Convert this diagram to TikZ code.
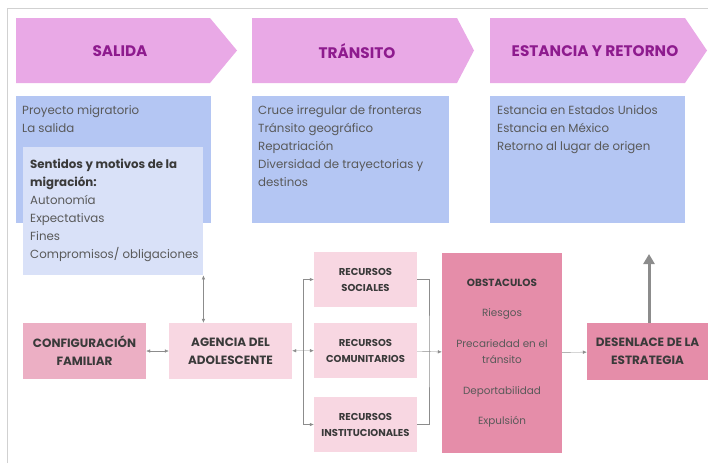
\documentclass[tikz,border=0pt]{standalone}
\usepackage{fontspec}
\setmainfont{Poppins}
\usepackage{xcolor}
\usepackage{tikz}
\usetikzlibrary{arrows.meta}
\definecolor{headpink}{HTML}{E9A9E6}
\definecolor{headpurple}{HTML}{8E1B8E}
\definecolor{boxblue}{HTML}{B4C6F3}
\definecolor{paleblue}{HTML}{D9E1F8}
\definecolor{familypink}{HTML}{ECAFC4}
\definecolor{lightpink}{HTML}{F8D7E2}
\definecolor{darkpink}{HTML}{E58DA9}
\definecolor{bodygray}{HTML}{595959}
\definecolor{boldgray}{HTML}{3A3A3A}
\definecolor{linegray}{HTML}{8C8C8C}
\tikzset{
	chevron/.style={fill=headpink},
	headtxt/.style={font=\bfseries\fontsize{15.3}{18}\selectfont,text=headpurple},
	panel/.style={fill=#1,anchor=north west,inner sep=0pt},
	body/.style={anchor=north west,align=left,inner sep=0pt,text=bodygray,font=\fontsize{11.8}{18}\selectfont},
	block/.style={fill=#1,inner sep=2pt,align=center,text=boldgray,font=\bfseries\fontsize{12}{18}\selectfont},
	res/.style={block=lightpink,minimum width=103,minimum height=55,font=\bfseries\fontsize{10}{16}\selectfont}
}

\begin{document}
\begin{tikzpicture}[x=1pt,y=-1pt]
	\useasboundingbox (0,0) rectangle (708,463);
	\draw[black!18] (7,463) -- (7,8) -- (708,8);
	%
	\fill[chevron] (16,18) -- (210,18) -- (237,50.5) -- (210,83) -- (16,83) -- cycle;
	\fill[chevron] (252,18) -- (457,18) -- (474,50.5) -- (457,83) -- (252,83) -- cycle;
	\fill[chevron] (490,18) -- (685,18) -- (707,50.5) -- (685,83) -- (490,83) -- cycle;
	\node[headtxt] (S) at (120,51) {SALIDA};
	\node[headtxt] (T) at (357,51) {TRÁNSITO};
	\node[headtxt] (E) at (595,51) {ESTANCIA Y RETORNO};
	%
	\node[panel=boxblue,minimum width=195,minimum height=127] (P1) at (16,96) {};
	\node[panel=boxblue,minimum width=197,minimum height=127] (P2) at (252,96) {};
	\node[panel=boxblue,minimum width=195,minimum height=127] (P3) at (490,96) {};
	\node[panel=paleblue,minimum width=180,minimum height=128] (M) at (23,147) {};
	\node[body] (P1t) at (22,105.5) {Proyecto migratorio\\La salida};
	\node[body] (Mt) at (30,158.5) {\textbf{\color{boldgray}Sentidos y motivos de la}\\
		\textbf{\color{boldgray}migración:}\\Autonomía\\Expectativas\\Fines\\Compromisos/ obligaciones};
	\node[body] (P2t) at (258,105.5) {Cruce irregular de fronteras\\Tránsito geográfico\\Repatriación\\
		Diversidad de trayectorias y\\destinos};
	\node[body] (P3t) at (497,105.5) {Estancia en Estados Unidos\\Estancia en México\\Retorno al lugar de origen};
	%
	\node[block=familypink,minimum width=123,minimum height=56] (CF) at (84.5,351) {CONFIGURACIÓN\\FAMILIAR};
	\node[block=lightpink,minimum width=123,minimum height=56] (AA) at (230.5,351) {AGENCIA DEL\\ADOLESCENTE};
	\node[res] (RS) at (365.5,279.5) {RECURSOS\\SOCIALES};
	\node[res] (RC) at (365.5,350.5) {RECURSOS\\COMUNITARIOS};
	\node[res] (RI) at (365.5,424.5) {RECURSOS\\INSTITUCIONALES};
	\node[block=darkpink,minimum width=120,minimum height=200,font=\fontsize{10.4}{16}\selectfont,text=bodygray] (OB) at (502,353)
		{\textbf{\color{boldgray}OBSTACULOS}\\[14pt]Riesgos\\[14.5pt]Precariedad en el\\tránsito\\[15pt]Deportabilidad\\[14pt]Expulsión};
	\node[block=darkpink,minimum width=121,minimum height=57] (DE) at (647.5,351.5) {DESENLACE DE LA\\ESTRATEGIA};
	%
	\coordinate (k) at (303,351);
	\coordinate (m) at (429,351);
	\coordinate (up) at (649,254);
	\path[<->,linegray,>={Latex[length=4pt,width=3.5pt]}]
	(CF) edge (AA)
	(M.south east) edge (M.south east |- AA.north)
	(AA) edge (RC);
	\draw[->,linegray,>={Latex[length=4pt,width=3.5pt]}] (k) |- (RS);
	\draw[->,linegray,>={Latex[length=4pt,width=3.5pt]}] (k) |- (RI);
	\draw[linegray] (RS) -| (m) |- (RI);
	\path[->,linegray,>={Latex[length=4pt,width=3.5pt]}]
	(RC) edge (OB)
	(OB) edge (DE);
	\draw[->,linegray,line width=3pt,>={Triangle[length=10pt,width=11pt]}] (DE.north -| up) -- (up);
\end{tikzpicture}
\end{document}
